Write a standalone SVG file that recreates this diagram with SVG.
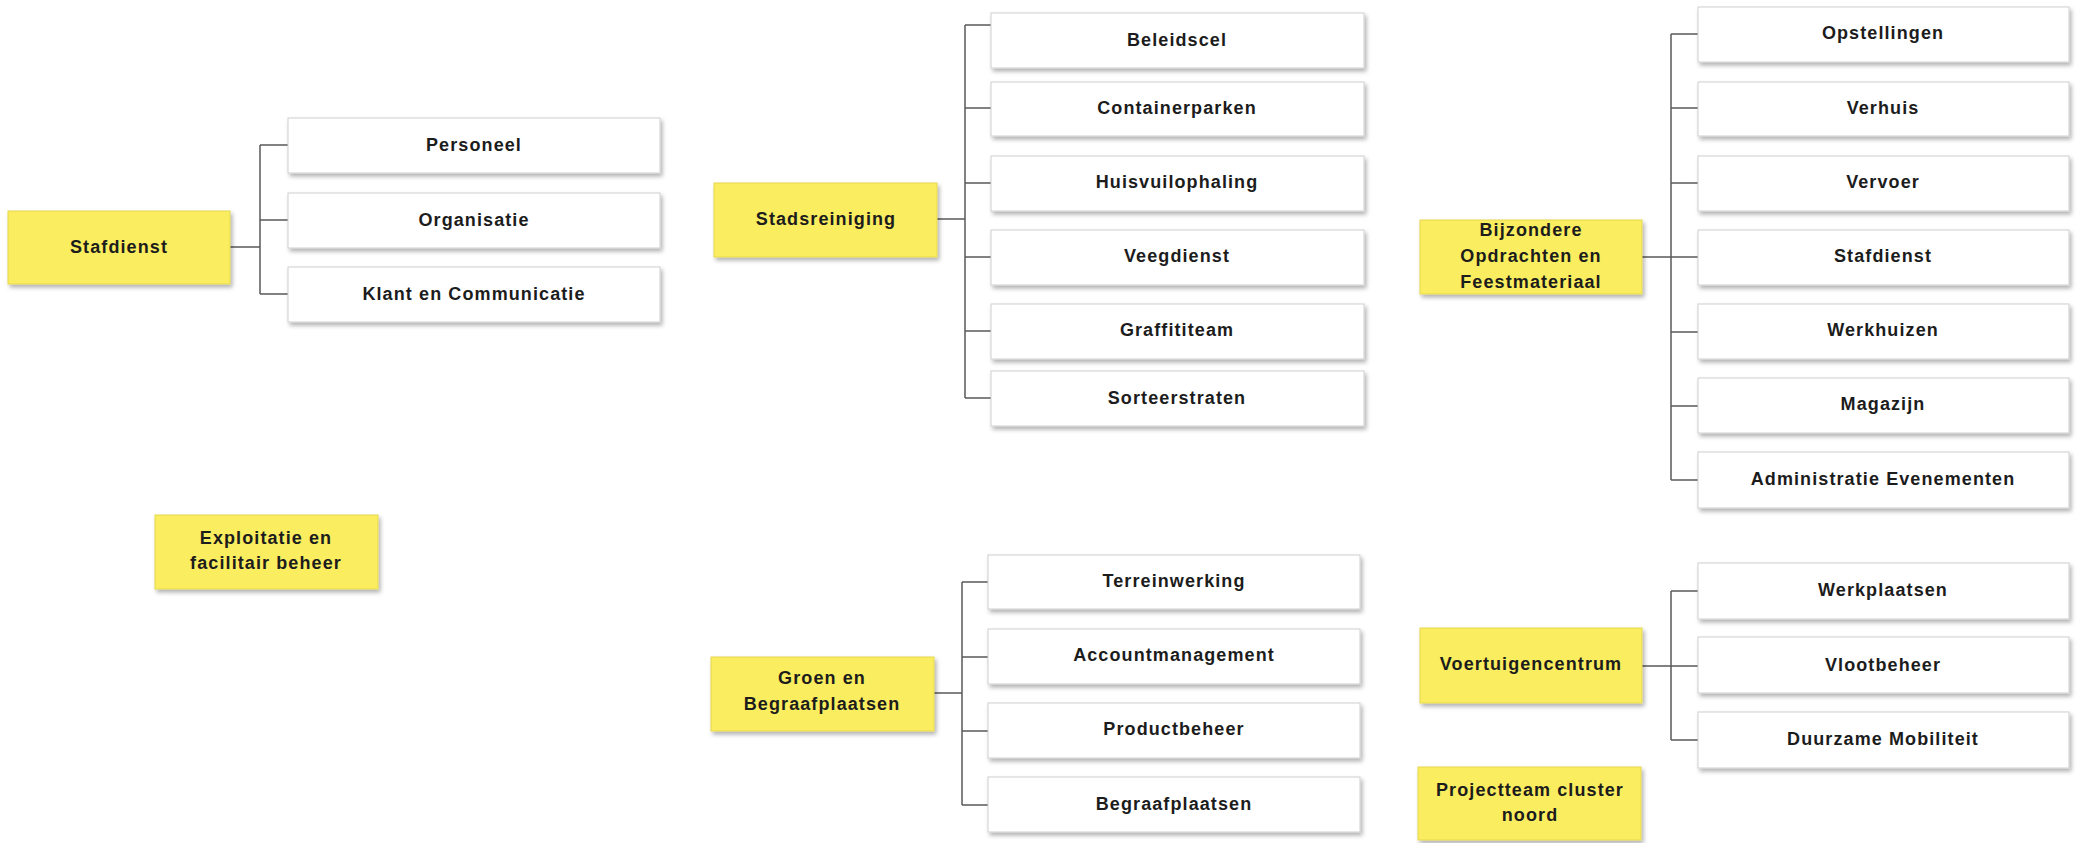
<svg xmlns="http://www.w3.org/2000/svg" width="2082" height="843" viewBox="0 0 2082 843">
<defs>
<filter id="sh" x="-10%" y="-20%" width="130%" height="150%">
<feDropShadow dx="2" dy="3" stdDeviation="2" flood-color="#000" flood-opacity="0.3"/>
</filter>
<style>
.w{fill:#fff;stroke:#cfcfcf;stroke-width:1;filter:url(#sh)}
.y{fill:#FAED5E;stroke:#e6d850;stroke-width:1;filter:url(#sh)}
.t{font-family:"Liberation Sans",Arial,sans-serif;font-weight:bold;font-size:18px;letter-spacing:1.1px;fill:#1c1c1c;text-anchor:middle}
.c{fill:none;stroke:#5a5a5a;stroke-width:1.5}
</style>
</defs>
<rect width="2082" height="843" fill="#fff"/>
<g id="connectors">
<path class="c" d="M230,247H260M260,145V294M260,145H288M260,220H288M260,294H288"/>
<path class="c" d="M937,219H965M965,25V398M965,25H991M965,108H991M965,183H991M965,257H991M965,331H991M965,398H991"/>
<path class="c" d="M1642,257H1698M1671,34V480M1671,34H1698M1671,108H1698M1671,183H1698M1671,332H1698M1671,406H1698M1671,480H1698"/>
<path class="c" d="M934,693H962M962,582V805M962,582H988M962,657H988M962,731H988M962,805H988"/>
<path class="c" d="M1642,666H1698M1671,591V740M1671,591H1698M1671,740H1698"/>
</g>
<g id="stafdienst"><rect class="y" x="8" y="211" width="222" height="73"/><text class="t" x="119" y="253">Stafdienst</text></g>
<g id="personeel"><rect class="w" x="288" y="118" width="372" height="55"/><text class="t" x="474" y="151">Personeel</text></g>
<g id="organisatie"><rect class="w" x="288" y="193" width="372" height="55"/><text class="t" x="474" y="226">Organisatie</text></g>
<g id="klant"><rect class="w" x="288" y="267" width="372" height="55"/><text class="t" x="474" y="300">Klant en Communicatie</text></g>

<g id="stadsreiniging"><rect class="y" x="714" y="183" width="223" height="74"/><text class="t" x="826" y="225">Stadsreiniging</text></g>
<g id="beleidscel"><rect class="w" x="991" y="13" width="373" height="55"/><text class="t" x="1177" y="46">Beleidscel</text></g>
<g id="containerparken"><rect class="w" x="991" y="82" width="373" height="54"/><text class="t" x="1177" y="114">Containerparken</text></g>
<g id="huisvuilophaling"><rect class="w" x="991" y="156" width="373" height="55"/><text class="t" x="1177" y="188">Huisvuilophaling</text></g>
<g id="veegdienst"><rect class="w" x="991" y="230" width="373" height="55"/><text class="t" x="1177" y="262">Veegdienst</text></g>
<g id="graffititeam"><rect class="w" x="991" y="304" width="373" height="55"/><text class="t" x="1177" y="336">Graffititeam</text></g>
<g id="sorteerstraten"><rect class="w" x="991" y="371" width="373" height="55"/><text class="t" x="1177" y="404">Sorteerstraten</text></g>

<g id="bijzondere"><rect class="y" x="1420" y="220" width="222" height="74"/><text class="t" x="1531" y="236">Bijzondere</text><text class="t" x="1531" y="262">Opdrachten en</text><text class="t" x="1531" y="288">Feestmateriaal</text></g>
<g id="opstellingen"><rect class="w" x="1698" y="7" width="371" height="55"/><text class="t" x="1883" y="39">Opstellingen</text></g>
<g id="verhuis"><rect class="w" x="1698" y="82" width="371" height="54"/><text class="t" x="1883" y="114">Verhuis</text></g>
<g id="vervoer"><rect class="w" x="1698" y="156" width="371" height="55"/><text class="t" x="1883" y="188">Vervoer</text></g>
<g id="stafdienst2"><rect class="w" x="1698" y="230" width="371" height="55"/><text class="t" x="1883" y="262">Stafdienst</text></g>
<g id="werkhuizen"><rect class="w" x="1698" y="304" width="371" height="55"/><text class="t" x="1883" y="336">Werkhuizen</text></g>
<g id="magazijn"><rect class="w" x="1698" y="378" width="371" height="55"/><text class="t" x="1883" y="410">Magazijn</text></g>
<g id="administratie"><rect class="w" x="1698" y="452" width="371" height="56"/><text class="t" x="1883" y="485">Administratie Evenementen</text></g>

<g id="exploitatie"><rect class="y" x="155" y="515" width="223" height="74"/><text class="t" x="266" y="544">Exploitatie en</text><text class="t" x="266" y="569">facilitair beheer</text></g>

<g id="groen"><rect class="y" x="711" y="657" width="223" height="74"/><text class="t" x="822" y="684">Groen en</text><text class="t" x="822" y="710">Begraafplaatsen</text></g>
<g id="terreinwerking"><rect class="w" x="988" y="555" width="372" height="54"/><text class="t" x="1174" y="587">Terreinwerking</text></g>
<g id="accountmanagement"><rect class="w" x="988" y="629" width="372" height="55"/><text class="t" x="1174" y="661">Accountmanagement</text></g>
<g id="productbeheer"><rect class="w" x="988" y="703" width="372" height="55"/><text class="t" x="1174" y="735">Productbeheer</text></g>
<g id="begraafplaatsen"><rect class="w" x="988" y="777" width="372" height="55"/><text class="t" x="1174" y="810">Begraafplaatsen</text></g>

<g id="voertuigencentrum"><rect class="y" x="1420" y="628" width="222" height="75"/><text class="t" x="1531" y="670">Voertuigencentrum</text></g>
<g id="werkplaatsen"><rect class="w" x="1698" y="563" width="371" height="56"/><text class="t" x="1883" y="596">Werkplaatsen</text></g>
<g id="vlootbeheer"><rect class="w" x="1698" y="637" width="371" height="56"/><text class="t" x="1883" y="671">Vlootbeheer</text></g>
<g id="duurzame"><rect class="w" x="1698" y="712" width="371" height="56"/><text class="t" x="1883" y="745">Duurzame Mobiliteit</text></g>

<g id="projectteam"><rect class="y" x="1418" y="767" width="223" height="73"/><text class="t" x="1530" y="796">Projectteam cluster</text><text class="t" x="1530" y="821">noord</text></g>
</svg>
